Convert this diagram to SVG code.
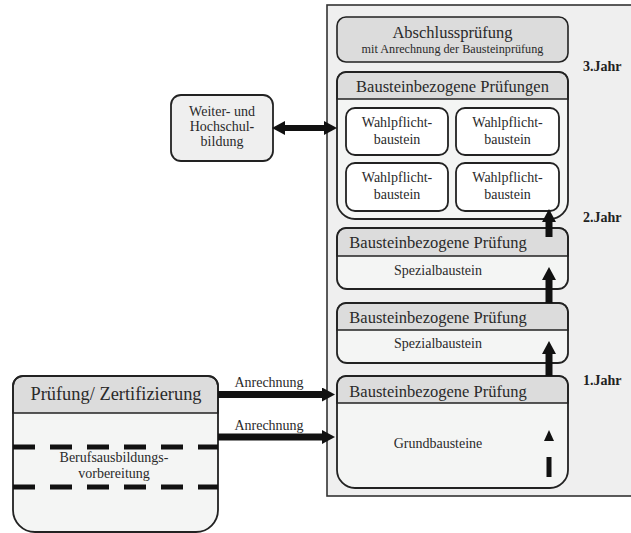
<svg xmlns="http://www.w3.org/2000/svg" width="631" height="533" viewBox="0 0 631 533">
  <style>
    text { font-family: 'Liberation Serif', 'Tinos', 'DejaVu Serif', serif; fill: #2a2a2a; text-anchor: middle; }
    .h { font-size: 16.5px; }
    .s { font-size: 14px; }
    .xs { font-size: 12.2px; }
    .big { font-size: 18.4px; }
    .yr { font-size: 14px; font-weight: bold; text-anchor: start; fill: #222; }
    .body { fill: #f4f5f4; stroke: none; }
    .hdr { fill: #dcdcdc; stroke: #222; stroke-width: 1.6; }
    .out { fill: none; stroke: #222; stroke-width: 1.8; }
    .card { fill: #ffffff; stroke: #222; stroke-width: 1.8; }
    .arr { stroke: #111; fill: none; }
  </style>
  <defs>
    <marker id="head" viewBox="0 0 13 14" refX="2" refY="7" markerWidth="13" markerHeight="14" orient="auto-start-reverse" markerUnits="userSpaceOnUse">
      <path d="M0,0 L13,7 L0,14 Z" fill="#111"/>
    </marker>
  </defs>

  <!-- training programme panel -->
  <rect id="panel" x="327" y="5" width="320" height="491" fill="#efefef" stroke="#333" stroke-width="1.6"/>

  <!-- final examination -->
  <g id="abschluss">
    <rect x="337" y="17" width="231" height="45" rx="9" class="hdr" stroke-width="1.8"/>
    <text x="452.5" y="38" class="h">Abschlussprüfung</text>
    <text x="452.5" y="53" class="xs">mit Anrechnung der Bausteinprüfung</text>
  </g>

  <!-- module examinations, year 3 -->
  <g id="wahlpflicht-gruppe">
    <path class="body" d="M346,72 H559 A9,9 0 0 1 568,81 V201 A18,18 0 0 1 550,219 H355 A18,18 0 0 1 337,201 V81 A9,9 0 0 1 346,72 Z"/>
    <path class="hdr" d="M337,99 V81 A9,9 0 0 1 346,72 H559 A9,9 0 0 1 568,81 V99 Z"/>
    <path class="out" d="M346,72 H559 A9,9 0 0 1 568,81 V201 A18,18 0 0 1 550,219 H355 A18,18 0 0 1 337,201 V81 A9,9 0 0 1 346,72 Z"/>
    <text x="452.5" y="92" class="h">Bausteinbezogene Prüfungen</text>
  </g>
  <g id="wp1">
    <rect x="346" y="108" width="102" height="47" rx="9" class="card"/>
    <text x="397" y="127" class="s">Wahlpflicht-</text>
    <text x="397" y="144" class="s">baustein</text>
  </g>
  <g id="wp2">
    <rect x="456" y="108" width="103" height="47" rx="9" class="card"/>
    <text x="507.5" y="127" class="s">Wahlpflicht-</text>
    <text x="507.5" y="144" class="s">baustein</text>
  </g>
  <g id="wp3">
    <rect x="346" y="163" width="102" height="48" rx="9" class="card"/>
    <text x="397" y="182" class="s">Wahlpflicht-</text>
    <text x="397" y="199" class="s">baustein</text>
  </g>
  <g id="wp4">
    <rect x="456" y="163" width="103" height="48" rx="9" class="card"/>
    <text x="507.5" y="182" class="s">Wahlpflicht-</text>
    <text x="507.5" y="199" class="s">baustein</text>
  </g>

  <!-- special module, year 2 (upper) -->
  <g id="spezial2">
    <path class="body" d="M346,228 H559 A9,9 0 0 1 568,237 V279 A10,10 0 0 1 558,289 H347 A10,10 0 0 1 337,279 V237 A9,9 0 0 1 346,228 Z"/>
    <path class="hdr" d="M337,256 V237 A9,9 0 0 1 346,228 H559 A9,9 0 0 1 568,237 V256 Z"/>
    <path class="out" d="M346,228 H559 A9,9 0 0 1 568,237 V279 A10,10 0 0 1 558,289 H347 A10,10 0 0 1 337,279 V237 A9,9 0 0 1 346,228 Z"/>
    <text x="438" y="248" class="h">Bausteinbezogene Prüfung</text>
    <text x="438" y="275" class="s">Spezialbaustein</text>
  </g>

  <!-- special module, year 2 (lower) -->
  <g id="spezial1">
    <path class="body" d="M346,303 H559 A9,9 0 0 1 568,312 V353 A10,10 0 0 1 558,363 H347 A10,10 0 0 1 337,353 V312 A9,9 0 0 1 346,303 Z"/>
    <path class="hdr" d="M337,330 V312 A9,9 0 0 1 346,303 H559 A9,9 0 0 1 568,312 V330 Z"/>
    <path class="out" d="M346,303 H559 A9,9 0 0 1 568,312 V353 A10,10 0 0 1 558,363 H347 A10,10 0 0 1 337,353 V312 A9,9 0 0 1 346,303 Z"/>
    <text x="438" y="323" class="h">Bausteinbezogene Prüfung</text>
    <text x="438" y="348" class="s">Spezialbaustein</text>
  </g>

  <!-- basic modules, year 1 -->
  <g id="grund">
    <path class="body" d="M346,376 H559 A9,9 0 0 1 568,385 V470 A18,18 0 0 1 550,488 H355 A18,18 0 0 1 337,470 V385 A9,9 0 0 1 346,376 Z"/>
    <path class="hdr" d="M337,403 V385 A9,9 0 0 1 346,376 H559 A9,9 0 0 1 568,385 V403 Z"/>
    <path class="out" d="M346,376 H559 A9,9 0 0 1 568,385 V470 A18,18 0 0 1 550,488 H355 A18,18 0 0 1 337,470 V385 A9,9 0 0 1 346,376 Z"/>
    <text x="438" y="397" class="h">Bausteinbezogene Prüfung</text>
    <text x="438" y="448" class="s">Grundbausteine</text>
    <path d="M549,430 L554,441 L544,441 Z" fill="#111"/>
    <rect x="546.5" y="457" width="5" height="20" fill="#111"/>
  </g>

  <!-- further and higher education -->
  <g id="weiterbildung">
    <rect x="171" y="95" width="102" height="66" rx="10" fill="#efefef" stroke="#222" stroke-width="1.8"/>
    <text x="222" y="116" class="s">Weiter- und</text>
    <text x="222" y="131" class="s">Hochschul<tspan font-weight="bold">-</tspan></text>
    <text x="222" y="146" class="s">bildung</text>
  </g>

  <!-- examination / certification -->
  <g id="zertifizierung">
    <path class="body" d="M23,376 H208 A10,10 0 0 1 218,386 V510 A22,22 0 0 1 196,532 H35 A22,22 0 0 1 13,510 V386 A10,10 0 0 1 23,376 Z"/>
    <path class="hdr" d="M13,413 V386 A10,10 0 0 1 23,376 H208 A10,10 0 0 1 218,386 V413 Z"/>
    <path class="out" d="M23,376 H208 A10,10 0 0 1 218,386 V510 A22,22 0 0 1 196,532 H35 A22,22 0 0 1 13,510 V386 A10,10 0 0 1 23,376 Z"/>
    <text x="116" y="400" class="big">Prüfung/ Zertifizierung</text>
    <line x1="13" y1="447" x2="218" y2="447" stroke="#111" stroke-width="5" stroke-dasharray="22 15"/>
    <line x1="13" y1="487" x2="218" y2="487" stroke="#111" stroke-width="5" stroke-dasharray="22 15"/>
    <text x="114" y="462" class="s">Berufsausbildungs-</text>
    <text x="114" y="478" class="s">vorbereitung</text>
  </g>

  <!-- connectors -->
  <g id="connectors">
    <line class="arr" x1="218" y1="394.5" x2="324" y2="394.5" stroke-width="7" marker-end="url(#head)"/>
    <line class="arr" x1="218" y1="437" x2="324" y2="437" stroke-width="7" marker-end="url(#head)"/>
    <line class="arr" x1="283" y1="128" x2="326" y2="128" stroke-width="6" marker-start="url(#head)" marker-end="url(#head)"/>
    <line class="arr" x1="549" y1="237" x2="549" y2="220" stroke-width="7" marker-end="url(#head)"/>
    <line class="arr" x1="549" y1="303" x2="549" y2="278" stroke-width="7" marker-end="url(#head)"/>
    <line class="arr" x1="549" y1="376" x2="549" y2="352" stroke-width="7" marker-end="url(#head)"/>
    <text x="269" y="387" class="s">Anrechnung</text>
    <text x="269" y="430" class="s">Anrechnung</text>
  </g>

  <!-- year labels -->
  <text x="583" y="71" class="yr">3.Jahr</text>
  <text x="583" y="222" class="yr">2.Jahr</text>
  <text x="583" y="385" class="yr">1.Jahr</text>
</svg>
